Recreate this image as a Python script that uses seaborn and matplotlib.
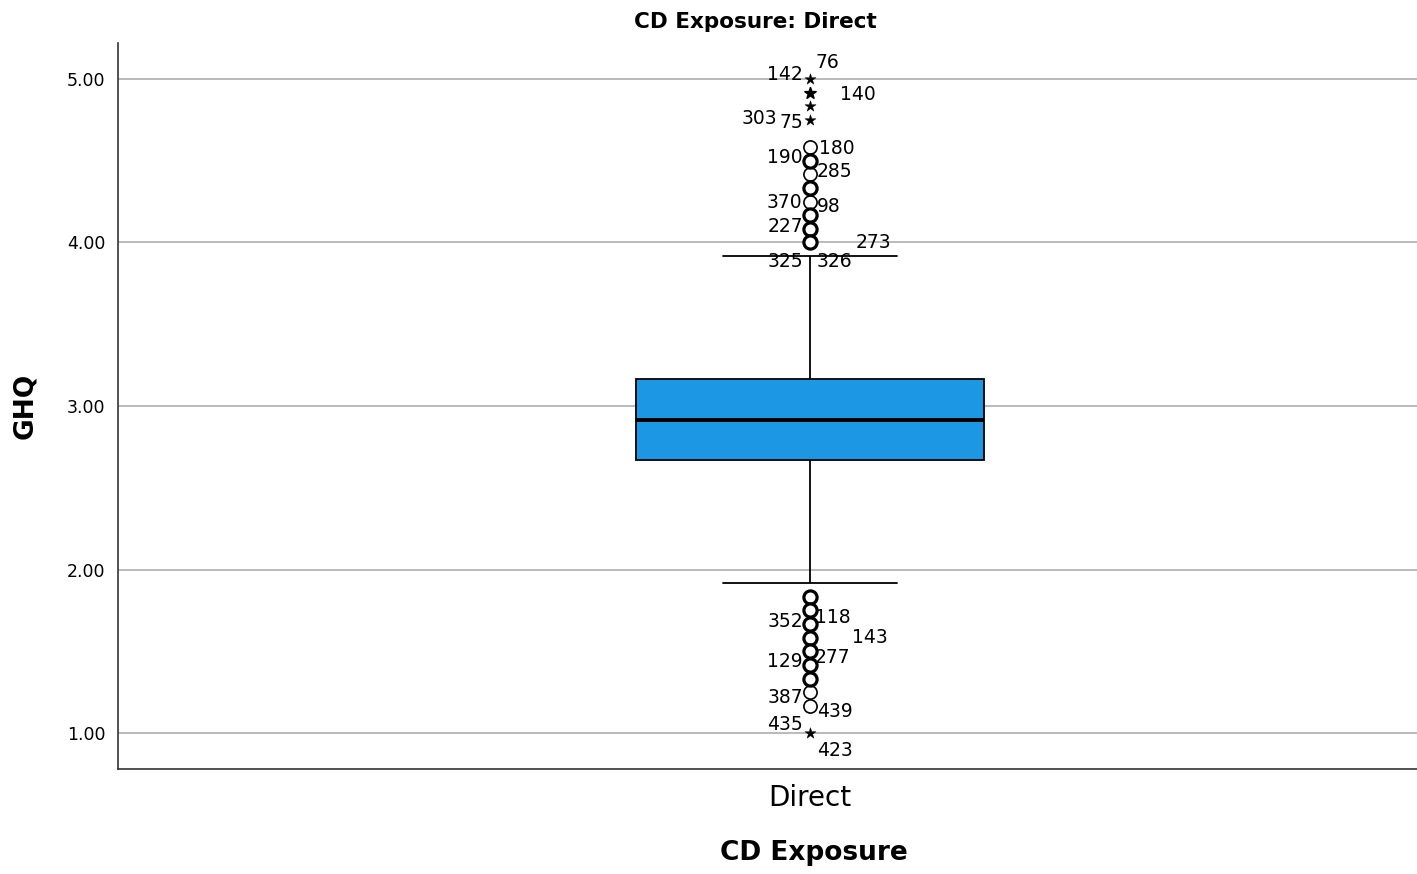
import numpy as np
import pandas as pd
import matplotlib
matplotlib.use("Agg")
import matplotlib.pyplot as plt
import seaborn as sns

# ---- data -------------------------------------------------------------
group = "Direct"
# five-number summary of GHQ for the Direct group:
# lower whisker, Q1, median, Q3, upper whisker
box_stats = [1.9167, 2.6667, 2.9167, 3.1667, 3.9167]

# outliers (circles): value and number of cases sharing it
mild_values = [4.0, 4.0833, 4.1667, 4.25, 4.3333, 4.4167, 4.5, 4.5833,
               1.8333, 1.75, 1.6667, 1.5833, 1.5, 1.4167, 1.3333, 1.25, 1.1667]
mild_counts = [3, 2, 2, 1, 2, 1, 2, 1,
               2, 2, 2, 2, 2, 2, 2, 1, 1]

# extreme values (stars)
extreme_values = [5.0, 4.9167, 4.8333, 4.75, 1.0]
extreme_counts = [1, 2, 1, 1, 1]

# case numbers printed next to the outliers
case_ids = ["76", "142", "140", "303", "75", "180", "190", "285", "370", "98",
            "227", "273", "325", "326",
            "352", "118", "143", "129", "277", "387", "439", "435", "423"]
case_values = [5.0, 5.0, 4.9167, 4.75, 4.75, 4.5833, 4.5, 4.4167, 4.25, 4.25,
               4.0833, 4.0, 4.0, 4.0,
               1.6667, 1.6667, 1.5833, 1.4167, 1.4167, 1.25, 1.1667, 1.0, 1.0]

# label placement (pixel offsets from the marker, horizontal alignment)
label_layout = [(5, 16, "left"), (-7, 4, "right"), (30, -2, "left"),
                (-33, 1, "right"), (-7, -3, "right"), (9, -1, "left"),
                (-7, 3, "right"), (7, 3, "left"), (-8, -1, "right"),
                (7, -5, "left"), (-7, 2, "right"), (46, 0, "left"),
                (-7, -19, "right"), (7, -19, "left"),
                (-7, 3, "right"), (5, 7, "left"), (42, 0, "left"),
                (-7, 3, "right"), (5, 7, "left"), (-7, -5, "right"),
                (7, -6, "left"), (-7, 9, "right"), (7, -17, "left")]

yticks = [1.0, 2.0, 3.0, 4.0, 5.0]

# ---- figure -----------------------------------------------------------
sns.set_style("white")
plt.rcParams["font.family"] = ["DejaVu Sans"]
plt.rcParams.update({"text.color": "black", "axes.labelcolor": "black",
                     "xtick.color": "black", "ytick.color": "black"})

fig = plt.figure(figsize=(14.17, 8.74), dpi=100)
ax = fig.add_axes([118 / 1417, 1 - 769 / 874, 1299 / 1417, 726 / 874])

box_df = pd.DataFrame({"exposure": [group] * len(box_stats), "ghq": box_stats})
sns.boxplot(data=box_df, x="exposure", y="ghq", ax=ax,
            whis=(0, 100), width=0.8, color="#1C97E3", saturation=1,
            linecolor="black", linewidth=1.3, showfliers=False,
            medianprops={"linewidth": 2.8, "color": "black"})

# circles for outliers, heavier outline where several cases coincide
mild_df = pd.DataFrame({"x": [0] * len(mild_values), "y": mild_values,
                        "n": mild_counts})
for n, sub in mild_df.groupby("n"):
    sns.scatterplot(data=sub, x="x", y="y", ax=ax, marker="o", s=90,
                    facecolor="white", edgecolor="black",
                    linewidth=1.2 if n == 1 else 2.3, zorder=5, legend=False)

ext_df = pd.DataFrame({"x": [0] * len(extreme_values), "y": extreme_values,
                       "n": extreme_counts})
for n, sub in ext_df.groupby("n"):
    sns.scatterplot(data=sub, x="x", y="y", ax=ax, marker="*", s=70,
                    color="black", edgecolor="black",
                    linewidth=0.3 if n == 1 else 1.2, zorder=5, legend=False)

for cid, val, (dx, dy, ha) in zip(case_ids, case_values, label_layout):
    ax.annotate(cid, xy=(0, val), xytext=(dx, dy), textcoords="offset pixels",
                ha=ha, va="center", fontsize=13.5, color="black", zorder=6)

# ---- axes styling -----------------------------------------------------
ax.set_xlim(-1.595, 1.399)
ax.set_ylim(0.78, 5.22)
ax.set_yticks(yticks)
ax.set_yticklabels([f"{t:.2f}" for t in yticks])
ax.yaxis.grid(True, color="#B4B4B4", linewidth=1.3)
ax.xaxis.grid(False)
ax.set_axisbelow(True)
ax.tick_params(axis="y", length=0, pad=9, labelsize=12.5)
ax.tick_params(axis="x", length=0, pad=11, labelsize=20)

for side in ["top", "right"]:
    ax.spines[side].set_visible(False)
for side in ["left", "bottom"]:
    ax.spines[side].set_color("#333333")
    ax.spines[side].set_linewidth(1.2)

ax.set_xlabel("CD Exposure", fontsize=19, fontweight="bold")
ax.set_ylabel("GHQ", fontsize=19, fontweight="bold")
ax.xaxis.set_label_coords((814 - 118) / 1299, -(853 - 769) / 726)
ax.xaxis.label.set_va("center")
ax.yaxis.set_label_coords(-(118 - 25) / 1299, 0.5)
ax.yaxis.label.set_va("center")

ax.set_title("CD Exposure: Direct", fontsize=15.5, fontweight="bold",
             x=(755 - 118) / 1299, y=(769 - 22) / 726, va="center", pad=0)

fig.savefig("out.png", dpi=100)
